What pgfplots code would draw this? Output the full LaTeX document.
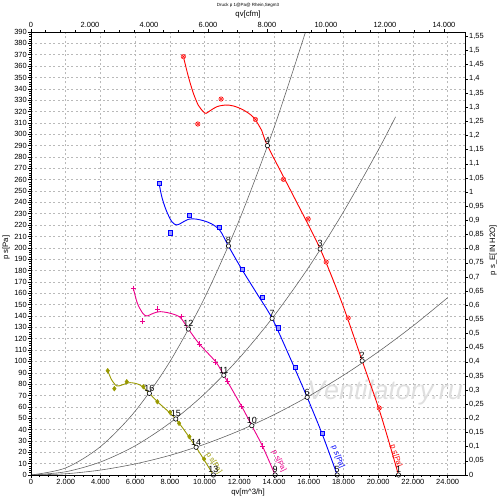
\documentclass[border=0pt]{standalone}
\usepackage{fontspec}
\setmainfont{Liberation Sans}
\usepackage{pgfplots}
\pgfplotsset{compat=1.18}
\usetikzlibrary{plotmarks}
\definecolor{olivec}{RGB}{153,153,0}
\definecolor{gridc}{RGB}{185,185,185}
\definecolor{sysc}{RGB}{100,100,100}
\begin{document}
\begin{tikzpicture}
\begin{axis}[
  name=main,
  at={(0,0)}, anchor=south west,
  scale only axis, width=434bp, height=443bp,
  xmin=0, xmax=25000, ymin=0, ymax=390,
  xtick={0,2000,...,24000},
  ytick={0,10,...,390},
  minor x tick num=3, minor y tick num=4,
  xtick pos=bottom, ytick pos=left,
  tick align=outside,
  major tick length=3bp, minor tick length=1.5bp,
  tick style={black, line width=0.5bp},
  grid=major,
  major grid style={gridc, dash pattern=on 2bp off 2.5bp, line width=0.5bp},
  axis line style={black, line width=0.8bp},
  scaled x ticks=false, scaled y ticks=false,
  /pgf/number format/assume math mode=true,
  xticklabel style={/pgf/number format/1000 sep={.}},
  ticklabel style={font=\fontsize{7.5}{8}\selectfont, inner sep=1bp},
  xlabel={qv[m\textasciicircum3/h]},
  ylabel={p s[Pa]},
  xlabel style={at={(axis description cs:0.5,-0.0384)}, anchor=center, font=\fontsize{7.8}{8}\selectfont},
  ylabel style={at={(axis description cs:-0.0576,0.513)}, anchor=center, font=\fontsize{7.8}{8}\selectfont},
  clip=false,
]
% watermark
\node[gray!25, font=\fontsize{27}{27}\selectfont\itshape] at (axis cs:20390,73) {Ventilatory.ru};

% system curves
\addplot[sysc, line width=0.6bp, smooth] coordinates {
 (0,0) (2000,6.24) (4000,24.96) (6000,56.2) (8000,99.8) (10000,156) (12000,224.6) (14000,305.8) (15800,389.4)};
\addplot[sysc, line width=0.6bp, smooth] coordinates {
 (0,0) (2000,2.86) (4000,11.44) (6000,25.7) (8000,45.8) (10000,71.5) (12000,103) (14000,140.1) (16000,183) (18000,231.7) (20000,286) (21000,315.3)};
\addplot[sysc, line width=0.6bp, smooth] coordinates {
 (0,0) (2000,1.08) (4000,4.34) (6000,9.76) (8000,17.3) (10000,27.1) (12000,39.0) (14000,53.1) (16000,69.4) (18000,87.8) (20000,108.4) (22000,131.2) (24000,156.1)};

% red fan curve
\addplot[red, line width=0.9bp, smooth, tension=0.5] coordinates {
 (8778,368.3) (9066,350.6) (9354,336.0) (9643,325.4) (9931,319.8) (10086,318.4) (10317,320.7) (10703,324.2) (11182,325.7) (11660,324.9) (12236,321.3) (12813,314.9) (13297,303) (13620,290) (15140,245) (16657,199) (17900,152) (19078,100.5) (20150,53) (21170,0)};
\addplot[only marks, red, mark=otimes*, mark size=2.3, mark options={fill=red!30, draw=red}] coordinates {
 (8778,368.3) (9608,309) (10951,331) (12928,313) (14542,260.3) (15965,225.4) (17003,187.5) (18271,138.2) (20058,59)};

% blue fan curve
\addplot[blue, line width=0.9bp, smooth, tension=0.5] coordinates {
 (7378,256.8) (7533,245.0) (7781,233.3) (8110,223.0) (8398,220.1) (8686,222.1) (9066,225.1) (9452,225.4) (9931,223.9) (10415,221.0) (10893,215.1) (11372,201.6) (12144,181.1) (13000,160) (13890,137.9) (14900,104) (15908,68.4) (16800,35) (17637,0)};
\addplot[only marks, blue, mark=square*, mark size=2.1, mark options={fill=blue!40, draw=blue}] coordinates {
 (7378,256.8) (8012,213.3) (9124,228.9) (10818,218.1) (12144,181.1) (13331,156.4) (14219,129.7) (15233,94.8) (16772,37)};

% magenta fan curve
\addplot[magenta, line width=0.9bp, smooth, tension=0.5] coordinates {
 (5896,164.4) (6127,151.2) (6438,142.4) (6669,140.0) (7049,142.4) (7435,143.8) (8012,142.4) (8588,138.8) (9066,128.5) (9700,115.3) (10646,99.5) (11107,87.8) (12144,60.1) (12720,43.4) (13331,25.5) (14063,0)};
\addplot[only marks, magenta, mark=+, mark size=2.6, mark options={line width=0.7bp}] coordinates {
 (5896,164.4) (6415,135.6) (7303,146.1) (8646,139.4) (9700,115.3) (10646,99.5) (11337,82.8) (12144,60.1) (13331,25.5)};

% olive fan curve
\addplot[olivec, line width=0.9bp, smooth, tension=0.5] coordinates {
 (4421,91.8) (4651,83.6) (4939,78.4) (5228,79.2) (5706,81.3) (6282,79.2) (6818,71.9) (7280,64.5) (8340,49.3) (9510,24.4) (10507,0)};
\addplot[only marks, olivec, mark=diamond*, mark size=2.4, mark options={fill=olivec, draw=olivec}] coordinates {
 (4421,91.8) (4801,76.0) (5516,82.1) (6473,77.7) (7280,64.5) (8012,55.2) (8530,45.5) (9124,33.7) (9971,14.1)};

% operating points
\addplot[only marks, mark=*, mark size=2.2, mark options={fill=white, draw=black, line width=0.6bp},
  nodes near coords, point meta=explicit symbolic,
  nodes near coords style={anchor=south, black, inner sep=0pt, yshift=1.8bp, font=\fontsize{9}{9}\selectfont}]
  table[meta=lab] {
x y lab
21170 0 1
19078 100.5 2
16657 199 3
13620 290 4
17637 0 5
15908 68.4 6
13890 137.9 7
11372 201.6 8
14063 0 9
12720 43.4 10
11107 87.8 11
9066 128.5 12
10507 0 13
9510 24.4 14
8340 49.3 15
6818 71.9 16
};

% curve labels
\node[red, rotate=-72, font=\fontsize{7.5}{8}\selectfont, inner sep=0pt] at (axis cs:21025,16.7) {p s[Pa]};
\node[blue, rotate=-68, font=\fontsize{7.5}{8}\selectfont, inner sep=0pt] at (axis cs:17684,15.8) {p s[Pa]};
\node[magenta, rotate=-64, font=\fontsize{7.5}{8}\selectfont, inner sep=0pt] at (axis cs:14286,12.3) {p s[Pa]};
\node[olivec, rotate=-58, font=\fontsize{7.5}{8}\selectfont, inner sep=0pt] at (axis cs:10541,10.6) {p s[Pa]};
\end{axis}

\begin{axis}[
  at={(0,0)}, anchor=south west,
  scale only axis, width=434bp, height=443bp,
  xmin=0, xmax=14714.4, ymin=0, ymax=1.5657,
  xtick={0,2000,...,14000}, minor x tick num=3,
  ytick={0,0.05,0.1,0.15,0.2,0.25,0.3,0.35,0.4,0.45,0.5,0.55,0.6,0.65,0.7,0.75,0.8,0.85,0.9,0.95,1,1.05,1.1,1.15,1.2,1.25,1.3,1.35,1.4,1.45,1.5,1.55},
  xtick pos=top, ytick pos=right,
  xticklabel pos=top, yticklabel pos=right,
  tick align=outside,
  major tick length=3bp, minor tick length=1.5bp,
  tick style={black, line width=0.5bp},
  axis line style={black, line width=0.8bp},
  scaled x ticks=false, scaled y ticks=false,
  /pgf/number format/assume math mode=true,
  xticklabel style={/pgf/number format/1000 sep={.}},
  yticklabel style={/pgf/number format/.cd, fixed, precision=2, use comma},
  ticklabel style={font=\fontsize{7.5}{8}\selectfont, inner sep=1bp},
  xlabel={qv[cfm]},
  ylabel={p s\_E[IN H2O]},
  xlabel style={at={(axis description cs:0.5,1.0384)}, anchor=center, font=\fontsize{7.8}{8}\selectfont},
  ylabel style={at={(axis description cs:1.0645,0.508)}, anchor=center, font=\fontsize{7.8}{8}\selectfont},
]
\addplot[draw=none] coordinates {(0,0)};
\end{axis}
\node[font=\fontsize{4.5}{5}\selectfont, inner sep=0pt] at (217bp,470bp) {Druck p 1@Pa@ Rhein,Segm3};
\pgfresetboundingbox
\path (-31bp,-25bp) rectangle (469bp,475bp);
\end{tikzpicture}
\end{document}
